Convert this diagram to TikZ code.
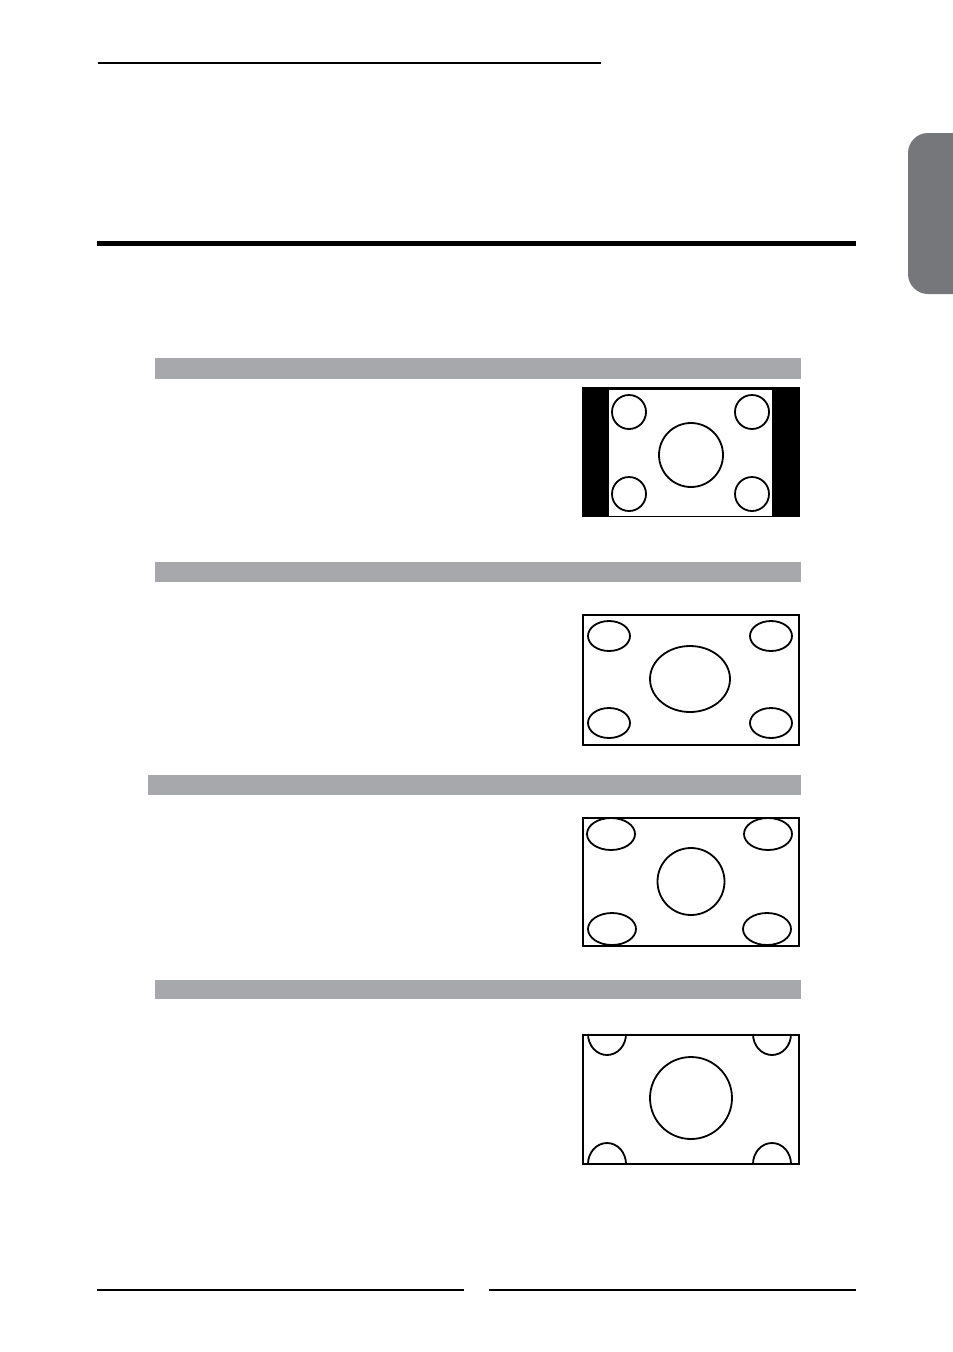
\documentclass[tikz,border=0pt]{standalone}
\usetikzlibrary{calc}
\definecolor{bargray}{HTML}{A7A8AB}
\definecolor{tabgray}{HTML}{76777B}
\tikzset{screen/.style={line width=2pt},shape line/.style={line width=1.8pt}}

\begin{document}
\begin{tikzpicture}[x=1pt,y=-1pt]
      \useasboundingbox (0,0) rectangle (953,1352);
      % rules of the page
      \draw[line width=2pt] (98,63) -- (601,63);
      \draw[line width=5pt] (97,243.5) -- (856,243.5);
      \draw[line width=2pt] (97,1290) -- (464,1290);
      \draw[line width=2pt] (489,1290) -- (856,1290);
      % side tab
      \fill[tabgray,rounded corners=20pt] (908,133) rectangle (975,294);
      % grey title bars
      \fill[bargray] (155,358) rectangle (801,379);
      \fill[bargray] (155,562) rectangle (801,582);
      \fill[bargray] (148,775) rectangle (801,795);
      \fill[bargray] (155,980) rectangle (801,999);
      % 4:3 picture with side bars
      \fill[black] (582,387) rectangle (609,517);
      \fill[black] (772,387) rectangle (800,517);
      \fill[black] (582,387) rectangle (800,390);
      \draw[line width=1pt] (582,516.5) -- (800,516.5);
      \draw[shape line] (629,412) circle (17);
      \draw[shape line] (752,412) circle (17);
      \draw[shape line] (629,494) circle (17);
      \draw[shape line] (752,494) circle (17);
      \draw[shape line] (691,455) circle (32);
      % full picture
      \draw[screen] (583,615) rectangle (799,745);
      \draw[shape line] (609,636) ellipse (21 and 15);
      \draw[shape line] (771,636) ellipse (21 and 15);
      \draw[shape line] (609,723) ellipse (21 and 15);
      \draw[shape line] (771,723) ellipse (21 and 15);
      \draw[shape line] (690,679) ellipse (40 and 33);
      % panorama picture
      \draw[screen] (583,818) rectangle (799,946);
      \draw[shape line] (611,834) ellipse (24 and 16);
      \draw[shape line] (768,834) ellipse (24 and 16);
      \draw[shape line] (612,929) ellipse (24 and 16);
      \draw[shape line] (767,929) ellipse (24 and 16);
      \draw[shape line] (691,881.5) ellipse (33.5 and 33.5);
      % zoom picture
      \draw[shape line] (588,1034) arc[start angle=180,end angle=0,x radius=19,y radius=21];
      \draw[shape line] (753,1034) arc[start angle=180,end angle=0,x radius=19,y radius=21];
      \draw[shape line] (588,1164) arc[start angle=180,end angle=360,x radius=19,y radius=21];
      \draw[shape line] (753,1164) arc[start angle=180,end angle=360,x radius=19,y radius=21];
      \draw[shape line] (691,1098) circle (41);
      \draw[screen] (583,1035) rectangle (799,1164);
    \end{tikzpicture}
\end{document}
